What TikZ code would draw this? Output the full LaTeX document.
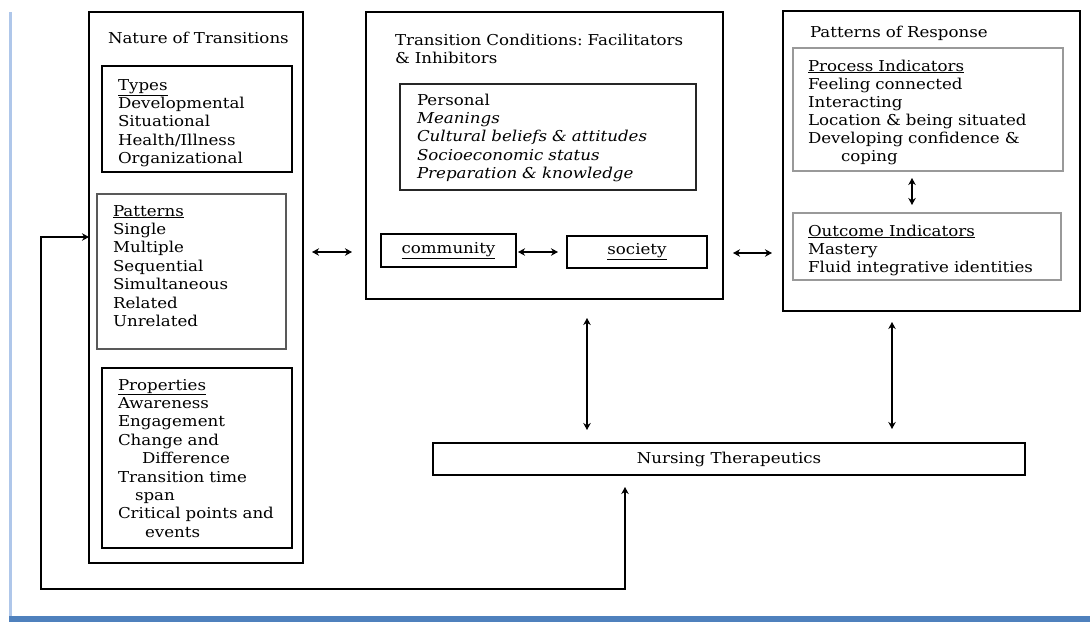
\documentclass[tikz,border=0pt]{standalone}
\usepackage{fontspec}
\setmainfont{DejaVu Serif}[FakeStretch=1.11]
\usetikzlibrary{arrows.meta,calc}
\definecolor{frameblue}{HTML}{4F81BD}
\definecolor{framelight}{HTML}{AFC7EA}
\newcommand{\txt}{\fontsize{15}{18.4}\selectfont}
\frenchspacing
\tikzset{
  box/.style={draw=black, line width=1.3pt, minimum width=#1, anchor=north west, inner sep=0pt, outer sep=0pt},
  lbl/.style={anchor=base west, inner sep=0pt, outer sep=0pt, font=\txt, text width=280pt, align=left},
  biarrow/.style={{Stealth[length=7pt,width=7.5pt]}-{Stealth[length=7pt,width=7.5pt]}, line width=1.4pt},
}
\begin{document}
\begin{tikzpicture}[x=1pt,y=-1pt]
\useasboundingbox (0,0) rectangle (1090,622);
% frame
\fill[framelight] (9,12) rectangle (12,617);
\fill[frameblue] (9,616) rectangle (1090,622);

% Nature of transitions
\node[box=214pt, minimum height=551pt] (nature) at (89,12) {};
\node[lbl] (natureT) at (108,43) {Nature of Transitions};
\node[box=190pt, minimum height=106pt] (types) at (102,66) {};
\node[lbl] (typesT) at (118,90) {\underline{Types}\\Developmental\\Situational\\Health/Illness\\Organizational};
\node[box=189pt, minimum height=155pt, draw=black!65, line width=2.2pt] (patterns) at (97,194) {};
\node[lbl] (patternsT) at (113,216) {\underline{Patterns}\\Single\\Multiple\\Sequential\\Simultaneous\\Related\\Unrelated};
\node[box=190pt, minimum height=180pt] (props) at (102,368) {};
\node[lbl] (propsT) at (118,390) {\underline{Properties}\\Awareness\\Engagement\\Change and\\\hspace*{24pt}Difference\\Transition time\\\hspace*{17pt}span\\Critical points and\\\hspace*{27pt}events};

% Transition conditions
\node[box=357pt, minimum height=287pt] (cond) at (366,12) {};
\node[lbl, text width=320pt] (condT) at (395,45) {Transition Conditions: Facilitators\\\& Inhibitors};
\node[box=296pt, minimum height=106pt, line width=1.6pt, draw=black!85] (personal) at (400,84) {};
\node[lbl] (personalT) at (417,105) {Personal\\\textit{Meanings}\\\textit{Cultural beliefs \& attitudes}\\\textit{Socioeconomic status}\\\textit{Preparation \& knowledge}};
\node[box=135pt, minimum height=33pt, font=\txt] (comm) at (381,234) {\underline{community}};
\node[box=140pt, minimum height=32pt, font=\txt] (soc) at (567,236) {\underline{society}};

% Patterns of response
\node[box=297pt, minimum height=300pt] (resp) at (783,11) {};
\node[lbl] (respT) at (810,37) {Patterns of Response};
\node[box=270pt, minimum height=123pt, draw=black!40, line width=1.1pt] (proc) at (793,48) {};
\node[lbl, text width=250pt] (procT) at (808,71) {\fontsize{15}{18}\selectfont\underline{Process Indicators}\\Feeling connected\\Interacting\\Location \& being situated\\Developing confidence \&\\\hspace*{33pt}coping};
\node[box=268pt, minimum height=67pt, draw=black!40, line width=1.1pt] (outc) at (793,213) {};
\node[lbl, text width=250pt] (outcT) at (808,236) {\fontsize{15}{18}\selectfont\underline{Outcome Indicators}\\Mastery\\Fluid integrative identities};

% Nursing therapeutics
\node[box=592pt, minimum height=32pt, font=\txt] (nurse) at (433,443) {Nursing Therapeutics};

% connectors
\draw[biarrow, shorten <=9pt, shorten >=14pt] (nature.east |- 0,252) -- (cond.west |- 0,252);
\draw[biarrow, shorten <=2pt, shorten >=9pt] (comm.east |- 0,252) -- (soc.west |- 0,252);
\draw[biarrow, shorten <=10pt, shorten >=11pt] (cond.east |- 0,253) -- (resp.west |- 0,253);
\draw[biarrow, shorten <=7pt, shorten >=8pt] (proc.south -| 912,0) -- (outc.north -| 912,0);
\draw[biarrow, shorten <=19pt, shorten >=13pt] (cond.south -| 587,0) -- (nurse.north -| 587,0);
\draw[biarrow, shorten <=11pt, shorten >=14pt] (resp.south -| 892,0) -- (nurse.north -| 892,0);
\coordinate (fb) at (41,589);
\draw[biarrow, shorten <=12pt] (nurse.south -| 625,0) |- (fb) |- (nature.west |- 0,237);
\end{tikzpicture}
\end{document}
